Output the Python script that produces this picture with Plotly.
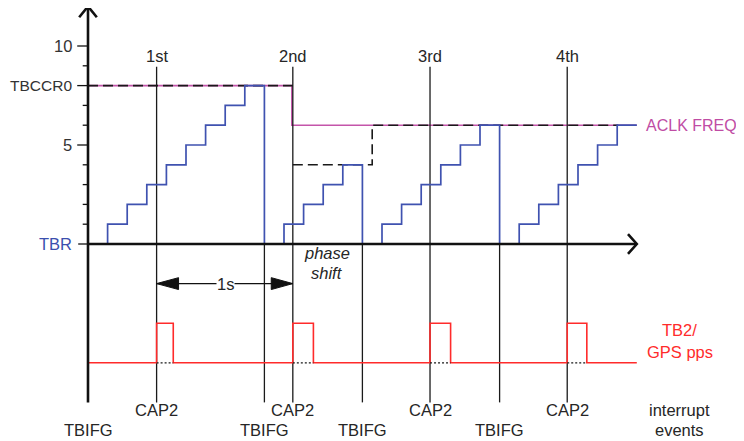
import plotly.graph_objects as go

# ---------------- data ----------------
# TBR counter value at each clock tick (staircase, hv)
tbr_ticks = [0, 1, 2, 3, 4, 5, 6, 7, 8, 9, 10, 11, 12, 13, 14, 15, 16, 17, 18, 19, 20,
             21, 22, 23, 24, 25, 26, 27, 28]
tbr_counts = [0, 1, 2, 3, 4, 5, 6, 7, 8, 0, 1, 2, 3, 4, 0, 1, 2, 3, 4, 5, 6,
              0, 1, 2, 3, 4, 5, 6, 6]

# TBCCR0 / ACLK FREQ compare level
cmp_x = [0, 10.4, 10.4, 28]
cmp_y = [8, 8, 6, 6]
# black dashed compare (new period)
dash1_x = [0, 10.45]
dash1_y = [8, 8]
dash2_x = [10.45, 14.5, 14.5, 27.05]
dash2_y = [4, 4, 6, 6]

# capture (GPS pps) events and timer-overflow events
cap_x = [3.5, 10.45, 17.45, 24.45]
cap_names = ["1st", "2nd", "3rd", "4th"]
tbifg_x = [0, 9, 14, 21]

# GPS pps pulse signal
pps_x = [0, 3.5, 3.5, 4.35, 4.35, 10.45, 10.45, 11.5, 11.5, 17.45, 17.45, 18.5, 18.5,
         24.45, 24.45, 25.45, 25.45, 28]
pps_y = [-6, -6, -4, -4, -6, -6, -4, -4, -6, -6, -4, -4, -6, -6, -4, -4, -6, -6]
pulse_end = [4.35, 11.5, 18.5, 25.45]

# y-axis ticks
major_ticks = [0, 5, 8, 10]
major_labels = ["TBR", "5", "TBCCR0", "10"]
major_colors = ["#3b4fae", "#333333", "#333333", "#333333"]
major_sizes = [16.5, 16.5, 15.5, 16.5]
minor_ticks = [1, 2, 3, 4, 6, 7, 9]

BLUE = "#3f52b0"
PINK = "#c455aa"
RED = "#ff2b2b"
TXT = "#262626"
FONT = "Liberation Sans, Arial, sans-serif"
FS = 16.5

fig = go.Figure()

def line(x, y, color, width, dash=None, shape="linear"):
    fig.add_trace(go.Scatter(x=x, y=y, mode="lines", hoverinfo="skip",
                             line=dict(color=color, width=width, dash=dash, shape=shape)))

# pink compare level, black dashes on top
line(cmp_x, cmp_y, PINK, 1.6)
line(dash1_x, dash1_y, "#1a1a1a", 1.6, dash="10px,5px")
line(dash2_x, dash2_y, "#1a1a1a", 1.6, dash="10px,5px")

# event lines
for cx in cap_x:
    line([cx, cx], [8.95, -8], "#1a1a1a", 1.3)
for tx in tbifg_x[1:]:
    line([tx, tx], [0, -8], "#1a1a1a", 1.3)

# TBR staircase
line(tbr_ticks, tbr_counts, BLUE, 1.7, shape="hv")

# GPS pps
line(pps_x, pps_y, RED, 1.6)
for cx, pe in zip(cap_x, pulse_end):
    line([cx, pe], [-6, -6], "#1a1a1a", 1.3, dash="2px,2px")

# axes
line([0, 0], [-8, 12], "#111111", 2.6)
line([0, 28], [0, 0], "#111111", 2.6)
line([-0.45, 0, 0.45], [11.45, 12, 11.45], "#111111", 2.6)
line([27.55, 28, 27.55], [0.5, 0, -0.5], "#111111", 2.6)
for t in major_ticks[1:]:
    line([-0.55, 0], [t, t], "#111111", 1.3)
line([-0.5, 0], [0, 0], "#111111", 1.3)
for t in minor_ticks:
    line([-0.27, 0], [t, t], "#111111", 1.3)

# 1s arrow
line([3.5, 10.45], [-2, -2], "#111111", 1.2)
fig.add_trace(go.Scatter(x=[3.5, 4.62, 4.62, 3.5], y=[-2, -1.7, -2.3, -2], mode="lines",
                         fill="toself", fillcolor="#111111", line=dict(color="#111111", width=1),
                         hoverinfo="skip"))
fig.add_trace(go.Scatter(x=[10.45, 9.35, 9.35, 10.45], y=[-2, -1.7, -2.3, -2], mode="lines",
                         fill="toself", fillcolor="#111111", line=dict(color="#111111", width=1),
                         hoverinfo="skip"))

ann = []
def text(x, y, s, color=TXT, xanchor="center", size=FS, italic=False, bg=None):
    ann.append(dict(x=x, y=y, text=s, showarrow=False, xanchor=xanchor, yanchor="middle",
                    font=dict(family=FONT, size=size, color=color,
                              style="italic" if italic else "normal"),
                    bgcolor=bg, borderpad=0))

for t, lab, c, sz in zip(major_ticks, major_labels, major_colors, major_sizes):
    text(-0.75, t, lab, color=c, xanchor="right", size=sz)
for cx, nm in zip(cap_x, cap_names):
    text(cx, 9.5, nm)
for cx in cap_x:
    text(cx, -8.4, "CAP2")
for tx in tbifg_x:
    text(tx, -9.4, "TBIFG")
text(28.4, 6, "ACLK FREQ", color="#c04ca4", xanchor="left", size=16)
text(12.2, -0.45, "phase", italic=True)
text(12.2, -1.45, "shift", italic=True)
text(7.0, -2, "1s", bg="white")
text(30.2, -4.35, "TB2/", color=RED)
text(30.2, -5.45, "GPS pps", color=RED)
text(30.2, -8.4, "interrupt")
text(30.2, -9.4, "events")

# page body has an 8px margin: figure origin sits at window pixel (8, 8)
W, H, OFF = 736, 433, 8
X0, UX = 88 - OFF, 19.6   # x=0 at window px 88
Y0, UY = 244 - OFF, 19.8  # y=0 at window px 244

fig.update_layout(
    width=W, height=H, margin=dict(l=0, r=0, t=0, b=0),
    paper_bgcolor="white", plot_bgcolor="white", showlegend=False,
    xaxis=dict(range=[-X0 / UX, (W - X0) / UX], visible=False),
    yaxis=dict(range=[(Y0 - H) / UY, Y0 / UY], visible=False),
    annotations=ann,
)
fig.write_html("out.html")
